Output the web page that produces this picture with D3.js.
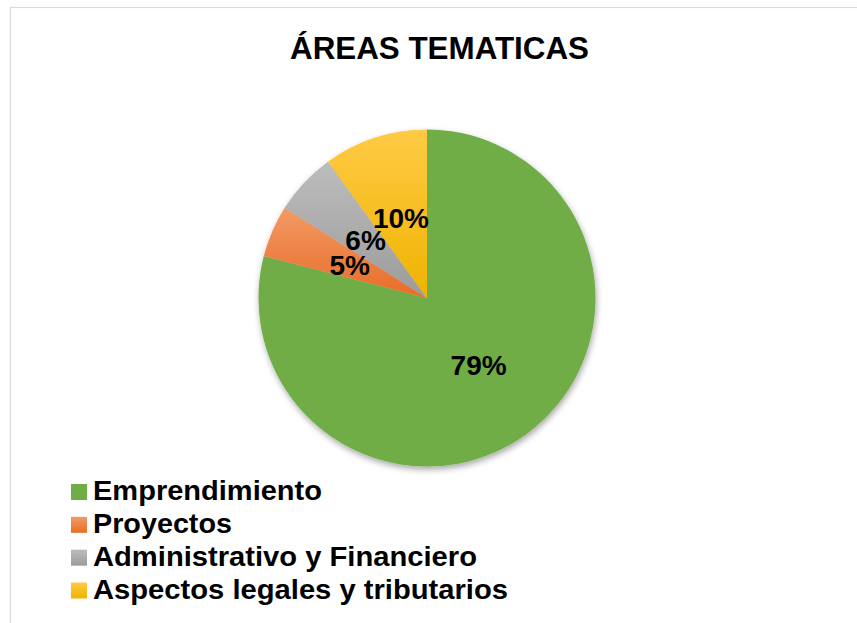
<!DOCTYPE html>
<html>
<head>
<meta charset="utf-8">
<script src="https://cdn.jsdelivr.net/npm/d3@7"></script>
<style>
  html, body { margin: 0; padding: 0; background: #fff; }
  svg { display: block; }
  text { font-family: "Liberation Sans", Arial, sans-serif; font-weight: bold; fill: #000; }
</style>
</head>
<body>
<svg id="chart" width="857" height="623"></svg>
<script>
const titleText = "ÁREAS TEMATICAS";
const categories = ["Emprendimiento", "Proyectos", "Administrativo y Financiero", "Aspectos legales y tributarios"];
const values = [79, 5, 6, 10];
const colors = ["#70ad47", "#ed7d31", "#a5a5a5", "#ffc000"];
const gradTop = ["#70ad47", "#f39a66", "#bdbdbd", "#ffca45"];
const gradBottom = ["#70ad47", "#e86d26", "#9b9b9b", "#efb300"];
const legendWidths = [229, 139, 384, 415];

const svg = d3.select("#chart");
const W = 857, H = 623;
const cx = 427, cy = 298, R = 168.5;

// chart border
svg.append("rect")
  .attr("x", 10.5).attr("y", 7.5)
  .attr("width", W + 20).attr("height", H + 20)
  .attr("fill", "#fff").attr("stroke", "#d9d9d9").attr("stroke-width", 1.2);

const defs = svg.append("defs");
const filt = defs.append("filter").attr("id", "shadow")
  .attr("x", "-20%").attr("y", "-20%").attr("width", "140%").attr("height", "140%");
filt.append("feDropShadow").attr("dx", 1).attr("dy", 3).attr("stdDeviation", 3)
  .attr("flood-color", "#000").attr("flood-opacity", 0.35);

categories.forEach((c, i) => {
  const g = defs.append("linearGradient").attr("id", "grad" + i)
    .attr("x1", 0).attr("y1", 0).attr("x2", 0).attr("y2", 1);
  g.append("stop").attr("offset", "0%").attr("stop-color", gradTop[i]);
  g.append("stop").attr("offset", "100%").attr("stop-color", gradBottom[i]);
});

// title
svg.append("text")
  .attr("x", 290).attr("y", 59)
  .attr("font-size", 31)
  .attr("textLength", 299).attr("lengthAdjust", "spacingAndGlyphs")
  .text(titleText);

// pie
const data = categories.map((c, i) => ({ name: c, value: values[i], i }));
const pie = d3.pie().value(d => d.value).sort(null);
const arcs = pie(data);
const arc = d3.arc().innerRadius(0).outerRadius(R);

const pg = svg.append("g").attr("transform", `translate(${cx},${cy})`);
pg.append("g").attr("filter", "url(#shadow)")
  .selectAll("path").data(arcs).join("path")
  .attr("d", arc)
  .attr("fill", d => `url(#grad${d.data.i})`);

const total = d3.sum(values);
pg.selectAll("text.lbl").data(arcs).join("text")
  .attr("class", "lbl")
  .attr("transform", d => `translate(${arc.centroid(d)})`)
  .attr("text-anchor", "middle")
  .attr("dy", "0.36em")
  .attr("font-size", 28)
  .text(d => Math.round(d.data.value / total * 100) + "%");

// legend
const lg = svg.append("g");
const rowY = d3.scalePoint().domain(categories).range([500, 598.5]);
categories.forEach((c, i) => {
  const y = rowY(c);
  lg.append("rect").attr("x", 71).attr("y", y - 16).attr("width", 16).attr("height", 16)
    .attr("fill", `url(#grad${i})`);
  lg.append("text").attr("x", 93).attr("y", y)
    .attr("font-size", 28)
    .attr("textLength", legendWidths[i]).attr("lengthAdjust", "spacingAndGlyphs")
    .text(c);
});
</script>
</body>
</html>
